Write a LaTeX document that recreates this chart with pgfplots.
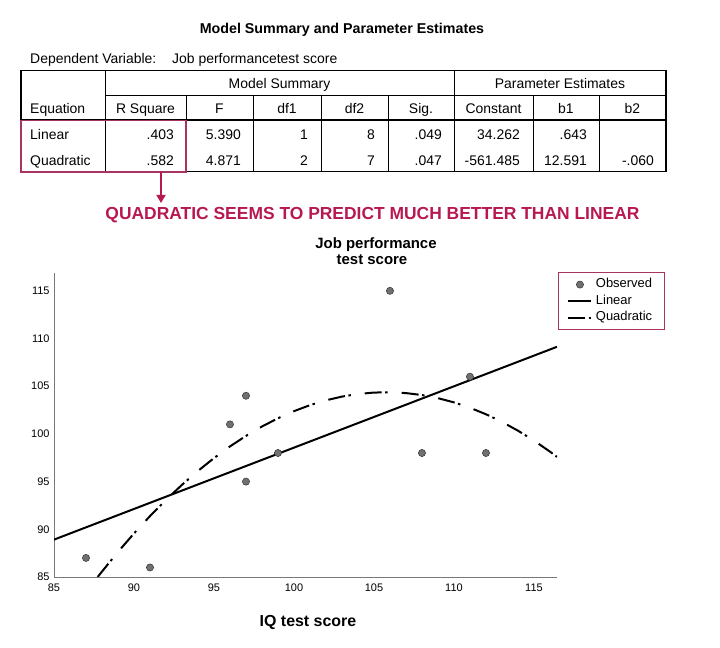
\documentclass[border=0pt]{standalone}
\usepackage{fontspec}
\setmainfont{Liberation Sans}
\usepackage{pgfplots}
\pgfplotsset{compat=1.18}
\usetikzlibrary{arrows.meta}
\definecolor{spssred}{RGB}{184,24,82}
\definecolor{boxred}{RGB}{168,52,98}
\definecolor{dotgray}{RGB}{112,112,112}
\definecolor{axisgray}{RGB}{120,120,120}
\newcommand{\fs}[1]{\fontsize{#1}{#1}\selectfont}

\begin{document}
\begin{tikzpicture}
\path[use as bounding box] (0,0) rectangle (720bp,648bp);

% table part, drawn in pixel units with y going down
\begin{scope}[x=1bp,y=-1bp,yshift=648bp,every node/.style={inner sep=0pt,anchor=base}]
  \node[font=\fs{14.3}\bfseries] at (342,34) {Model Summary and Parameter Estimates};
  \node[font=\fs{14},anchor=base west] at (30,64) {Dependent Variable:};
  \node[font=\fs{14},anchor=base west] at (172,64) {Job performancetest score};

  % grid
  \draw[line width=0.8bp] (105,70.7) -- (105,171.7);
  \draw[line width=0.8bp] (454,70.7) -- (454,171.7);
  \draw[line width=0.8bp] (105,95) -- (666,95);
  \foreach \cx in {186,253,321,388,533,599}
    \draw[line width=0.8bp] (\cx,95) -- (\cx,171.7);
  \draw[line width=1.6bp] (21,120) -- (666,120);
  \draw[line width=1.6bp] (21,70.7) rectangle (666,171.7);

  % header
  \begin{scope}[font=\fs{14}]
    \node at (279.5,89) {Model Summary};
    \node at (560,89) {Parameter Estimates};
    \node[anchor=base west] at (30,114) {Equation};
    \node at (145.5,114) {R Square};
    \node at (219.5,114) {F};
    \node at (287,114) {df1};
    \node at (354.5,114) {df2};
    \node at (421,114) {Sig.};
    \node at (493.5,114) {Constant};
    \node at (566,114) {b1};
    \node at (632.5,114) {b2};
    % rows
    \node[anchor=base west] at (30,140) {Linear};
    \node[anchor=base east] at (174,140) {.403};
    \node[anchor=base east] at (241,140) {5.390};
    \node[anchor=base east] at (308,140) {1};
    \node[anchor=base east] at (375,140) {8};
    \node[anchor=base east] at (442,140) {.049};
    \node[anchor=base east] at (520,140) {34.262};
    \node[anchor=base east] at (587,140) {.643};
    \node[anchor=base west] at (30,166) {Quadratic};
    \node[anchor=base east] at (174,166) {.582};
    \node[anchor=base east] at (241,166) {4.871};
    \node[anchor=base east] at (308,166) {2};
    \node[anchor=base east] at (375,166) {7};
    \node[anchor=base east] at (442,166) {.047};
    \node[anchor=base east] at (520,166) {-561.485};
    \node[anchor=base east] at (587,166) {12.591};
    \node[anchor=base east] at (654,166) {-.060};
  \end{scope}

  % highlight
  \draw[boxred,line width=1.3bp] (21,120.5) rectangle (186,172);
  \draw[spssred,line width=1.6bp,-{Triangle[length=8bp,width=9bp]}] (161,172) -- (161,203);
  \node[font=\fs{17.5}\bfseries,text=spssred] at (372.5,220)
    {QUADRATIC SEEMS TO PREDICT MUCH BETTER THAN LINEAR};

  % chart titles
  \node[font=\fs{15}\bfseries] at (376,249) {Job performance};
  \node[font=\fs{15}\bfseries] at (372,265) {test score};
  \node[font=\fs{16}\bfseries] at (308,627) {IQ test score};
\end{scope}

\begin{axis}[
  at={(54bp,71bp)}, anchor=south west,
  scale only axis, width=503bp, height=304bp,
  xmin=85, xmax=116.44, ymin=85, ymax=116.87,
  axis lines=left,
  axis line style={-, draw=axisgray, line width=0.8bp},
  major tick length=0pt,
  xtick={85,90,...,115}, ytick={85,90,...,115},
  ticklabel style={font=\fs{11}},
  /pgf/number format/assume math mode=true,
  xticklabel style={yshift=-3bp},
  yticklabel style={xshift=-1bp},
  legend style={at={(1.002,1.002)}, anchor=north west,
    draw=boxred, line width=0.9bp, font=\fs{13},
    inner xsep=9bp, inner ysep=4bp, row sep=1bp,
    nodes={inner xsep=3.5bp, inner ysep=1.5bp, text height=9.5bp, text depth=3bp}},
  legend cell align=left,
  legend image code/.code={\draw[mark repeat=2,mark phase=2,#1]
    plot coordinates {(0bp,0bp) (11.5bp,0bp) (23bp,0bp)};},
]
\addplot[only marks, mark=*, mark size=3.6bp,
  mark options={fill=dotgray, draw=black!80, line width=0.5bp}] coordinates {
  (87,87) (91,86) (96,101) (97,104) (97,95)
  (99,98) (106,115) (108,98) (111,106) (112,98)
};
\addlegendentry{Observed}

\addplot[black, line width=2bp] coordinates {
  (85,88.918) (116.44,109.133)
};
\addlegendentry{Linear}

\addplot[black, line width=2bp, dash pattern=on 17bp off 3.5bp on 2.5bp off 14bp] coordinates {
  (87.73,85.000) (88,85.575) (89,87.631) (90,89.567) (91,91.385)
  (92,93.084) (93,94.664) (94,96.124) (95,97.466) (96,98.689)
  (97,99.792) (98,100.777) (99,101.642) (100,102.388) (101,103.016)
  (102,103.524) (103,103.913) (104,104.184) (105,104.335) (106,104.367)
  (107,104.280) (108,104.074) (109,103.749) (110,103.305) (111,102.742)
  (112,102.060) (113,101.259) (114,100.338) (115,99.299) (116,98.141)
  (116.44,97.593)
};
\addlegendentry{Quadratic}
\end{axis}
\end{tikzpicture}
\end{document}
